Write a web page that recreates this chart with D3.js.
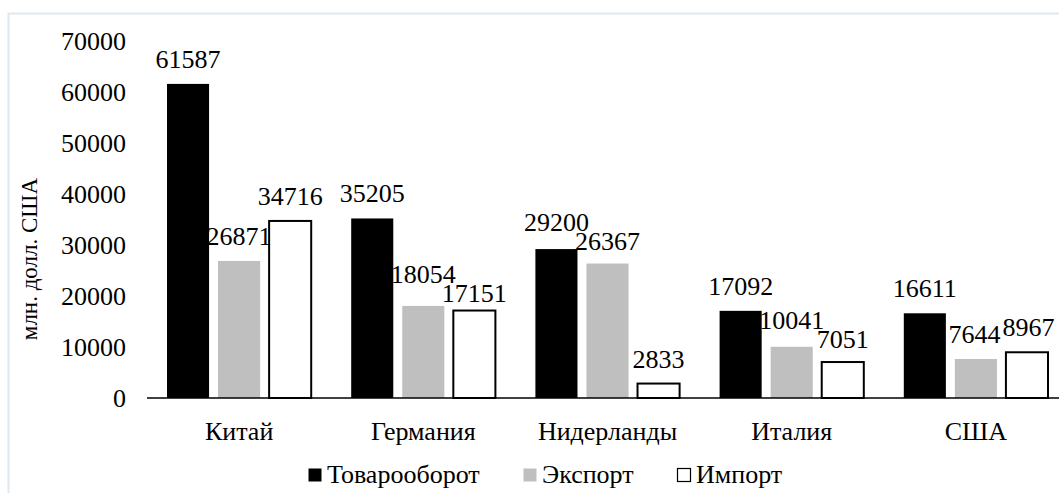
<!DOCTYPE html>
<html>
<head>
<meta charset="utf-8">
<script src="https://cdn.jsdelivr.net/npm/d3@7"></script>
<style>
  body { margin: 0; background: #fff; }
</style>
</head>
<body>
<div id="main-chart"></div>
<script>
var countries = ["Китай", "Германия", "Нидерланды", "Италия", "США"];
var seriesNames = ["Товарооборот", "Экспорт", "Импорт"];
var turnover = [61587, 35205, 29200, 17092, 16611];
var exportVals = [26871, 18054, 26367, 10041, 7644];
var importVals = [34716, 17151, 2833, 7051, 8967];
var yTicks = [0, 10000, 20000, 30000, 40000, 50000, 60000, 70000];

var width = 1059, height = 493;
var plotLeft = 147, plotRight = 1068, plotTop = 41, plotBottom = 398;
var serif = "'Liberation Serif', 'Times New Roman', serif";
var fontSize = "26px";

var svg = d3.select("#main-chart")
  .append("svg")
  .attr("width", width)
  .attr("height", height)
  .style("font-family", serif);

// light frame
svg.append("rect")
  .attr("x", 8.5).attr("y", 13.5)
  .attr("width", width + 10).attr("height", height + 10)
  .attr("fill", "none")
  .attr("stroke", "#dfe8ee")
  .attr("stroke-width", 2);

var x = d3.scaleBand().domain(countries).range([plotLeft, plotRight]);
var x1 = d3.scaleBand().domain(seriesNames).range([20, x.bandwidth() - 20]).paddingInner(0.176);
var y = d3.scaleLinear().domain([0, 70000]).range([plotBottom, plotTop]);

var fills = { "Товарооборот": "#000", "Экспорт": "#bfbfbf", "Импорт": "#fff" };
var strokes = { "Товарооборот": "none", "Экспорт": "none", "Импорт": "#000" };

var rows = countries.map(function(c, i) {
  return { country: c, values: [turnover[i], exportVals[i], importVals[i]] };
});

function styleText(sel) {
  sel.attr("font-family", serif)
    .style("font-family", serif)
    .style("font-size", fontSize)
    .attr("fill", "#000");
}

// y axis labels
var yAxis = d3.axisLeft(y).tickValues(yTicks).tickSize(0).tickPadding(0).tickFormat(d3.format("d"));
var ya = svg.append("g").attr("transform", "translate(126,0)").call(yAxis);
ya.attr("font-family", null).attr("font-size", null);
ya.select(".domain").remove();
ya.selectAll("text").call(styleText);

svg.append("text")
  .attr("transform", "translate(37,259) rotate(-90)")
  .attr("text-anchor", "middle")
  .attr("font-family", serif)
  .style("font-size", "23px")
  .text("млн. долл. США");

var groups = svg.selectAll("g.country")
  .data(rows)
  .enter()
  .append("g")
  .attr("class", "country")
  .attr("transform", function(d) { return "translate(" + x(d.country) + ",0)"; });

function items(d) {
  return d.values.map(function(v, j) { return { name: seriesNames[j], value: v }; });
}

groups.selectAll("rect")
  .data(items)
  .enter()
  .append("rect")
  .attr("x", function(d) { return x1(d.name); })
  .attr("y", function(d) { return y(d.value); })
  .attr("width", x1.bandwidth())
  .attr("height", function(d) { return plotBottom - y(d.value); })
  .attr("fill", function(d) { return fills[d.name]; })
  .attr("stroke", function(d) { return strokes[d.name]; })
  .attr("stroke-width", 2);

groups.each(function() {
  var labels = d3.select(this).selectAll("text.val")
    .data(items)
    .enter()
    .append("text")
    .attr("class", "val")
    .attr("text-anchor", "middle")
    .call(styleText)
    .text(function(d) { return d.value; });

  // label positions, then push neighbours apart where they collide
  var boxes = [];
  labels.each(function(d) {
    boxes.push({
      cx: x1(d.name) + x1.bandwidth() / 2,
      base: y(d.value) - 16,
      w: this.getComputedTextLength()
    });
  });
  var textH = 19, pad = 2;
  for (var j = 0; j < boxes.length - 1; j++) {
    var a = boxes[j], b = boxes[j + 1];
    var ox = (a.cx + a.w / 2 + pad) - (b.cx - b.w / 2);
    var oy = textH - Math.abs(a.base - b.base);
    if (ox > 0 && oy > 0) {
      if (ox < oy) {
        a.cx -= ox / 2;
        b.cx += ox / 2;
      } else {
        var hi = a.base <= b.base ? a : b, lo = hi === a ? b : a;
        hi.base -= oy / 2;
        lo.base += oy / 2;
      }
    }
  }
  labels
    .attr("x", function(d, i) { return boxes[i].cx; })
    .attr("y", function(d, i) { return boxes[i].base; });
});

// x axis
var xAxis = d3.axisBottom(x).tickSize(0).tickPadding(0);
var xa = svg.append("g").attr("transform", "translate(0," + plotBottom + ")").call(xAxis);
xa.attr("font-family", null).attr("font-size", null);
xa.select(".domain").attr("stroke", "#000").attr("stroke-width", 1.5).attr("d", "M" + plotLeft + ",0H" + plotRight);
xa.selectAll("text").attr("y", 42).attr("dy", null).call(styleText);

// legend
var legendX = [308, 523, 677];
var legend = svg.append("g");
seriesNames.forEach(function(name, i) {
  var g = legend.append("g").attr("transform", "translate(" + legendX[i] + ",483)");
  g.append("rect")
    .attr("x", 0.5).attr("y", -14.5)
    .attr("width", 13).attr("height", 13)
    .attr("fill", fills[name])
    .attr("stroke", strokes[name] === "none" ? "none" : "#000")
    .attr("stroke-width", 1.2);
  g.append("text")
    .attr("x", 19).attr("y", 0)
    .call(styleText)
    .text(name);
});
</script>
</body>
</html>
